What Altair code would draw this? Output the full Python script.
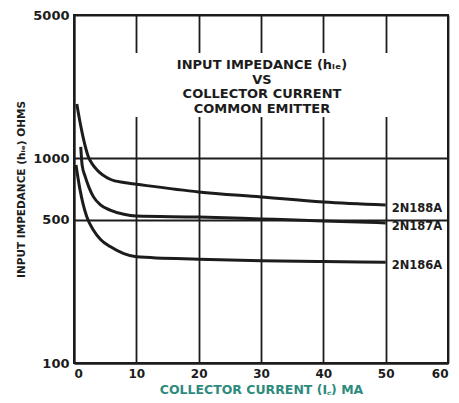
import altair as alt
import pandas as pd

# ---- data ----
series = ["2N188A", "2N187A", "2N186A"]
x_188 = [0.45, 1.0, 1.5, 2.3, 3.0, 3.7, 5.8, 8, 10, 20, 30, 40, 50]
y_188 = [1840, 1480, 1250, 1017, 930, 876, 789, 760, 746, 684, 647, 611, 591]
x_187 = [1.08, 1.3, 1.8, 2.4, 3.1, 4.3, 5.8, 8, 10, 20, 30, 40, 50]
y_187 = [1135, 927, 812, 720, 649, 590, 558, 532, 522, 516, 505, 494, 483]
x_186 = [0.32, 0.97, 1.5, 2.05, 3.1, 4.3, 5.8, 8, 10, 20, 30, 40, 50]
y_186 = [927, 700, 590, 518, 446, 400, 370, 342, 330, 321, 316, 313, 310]

x_ticks = [0, 10, 20, 30, 40, 50, 60]
y_ticks = [100, 500, 1000, 5000]

title_lines = ["INPUT IMPEDANCE (hᵢₑ)", "VS", "COLLECTOR CURRENT", "COMMON EMITTER"]
x_title = "COLLECTOR CURRENT (I꜀) MA"
y_title = "INPUT IMPEDANCE (hᵢₑ) OHMS"

rows = []
for name, xs, ys in zip(series, [x_188, x_187, x_186], [y_188, y_187, y_186]):
    for i, (a, b) in enumerate(zip(xs, ys)):
        rows.append({"series": name, "ic": a, "hie": b, "order": i})
df = pd.DataFrame(rows)
ends = df.sort_values("order").groupby("series").tail(1)

INK = "#1c1c1c"
FONT = "DejaVu Sans"

x_enc = alt.X("ic:Q", scale=alt.Scale(domain=[0, 60], nice=False),
              axis=alt.Axis(values=x_ticks, title=x_title, grid=True, tickSize=0,
                            labelPadding=5, titlePadding=4, titleColor="#2e8b7d",
                            titleFontSize=12.5, titleFontWeight="bold", titleFont=FONT))
y_enc = alt.Y("hie:Q", scale=alt.Scale(type="log", domain=[100, 5000], nice=False),
              axis=alt.Axis(values=y_ticks, title=y_title, grid=True, tickSize=0,
                            format="d", labelPadding=5, labelFontSize=13,
                            titlePadding=6, titleFontSize=10.5, titleFontWeight="bold",
                            titleFont=FONT, titleColor=INK))

# white panels that interrupt the grid behind the texts
boxes = alt.Chart(pd.DataFrame({"k": [0]})).mark_rect(color="white").encode(
    x=alt.value(54), x2=alt.value(320), y=alt.value(38), y2=alt.value(102))
label_box = alt.Chart(pd.DataFrame({"k": [0]})).mark_rect(color="white").encode(
    x=alt.value(315), x2=alt.value(372), y=alt.value(207), y2=alt.value(246))

lines = alt.Chart(df).mark_line(color=INK, strokeWidth=3, interpolate="monotone").encode(
    x=x_enc, y=y_enc, detail="series:N", order="order:Q")

labels = alt.Chart(ends).mark_text(align="left", baseline="middle", dx=6, dy=4,
                                    font=FONT, fontWeight="bold", fontSize=11.5,
                                    color=INK).encode(
    x="ic:Q", y="hie:Q", text="series:N")

title = alt.Chart(pd.DataFrame({"t": [title_lines]})).mark_text(
    align="center", baseline="top", font=FONT, fontWeight="bold", fontSize=13,
    lineHeight=14.5, color=INK).encode(
    x=alt.value(188), y=alt.value(44), text="t")

chart = alt.layer(boxes, label_box, lines, labels, title).properties(
    width=374, height=348,
    autosize=alt.AutoSizeParams(type="none"),
    padding={"left": 66, "top": 7, "right": 3, "bottom": 32},
).configure_view(stroke=INK, strokeWidth=2).configure_axis(
    gridColor=INK, gridWidth=1.8, gridOpacity=1, domainColor=INK, domainWidth=2,
    labelFont=FONT, labelFontWeight="bold", labelFontSize=12, labelColor=INK,
)

chart.save("out.html", embed_options={"renderer": "svg", "actions": False})
